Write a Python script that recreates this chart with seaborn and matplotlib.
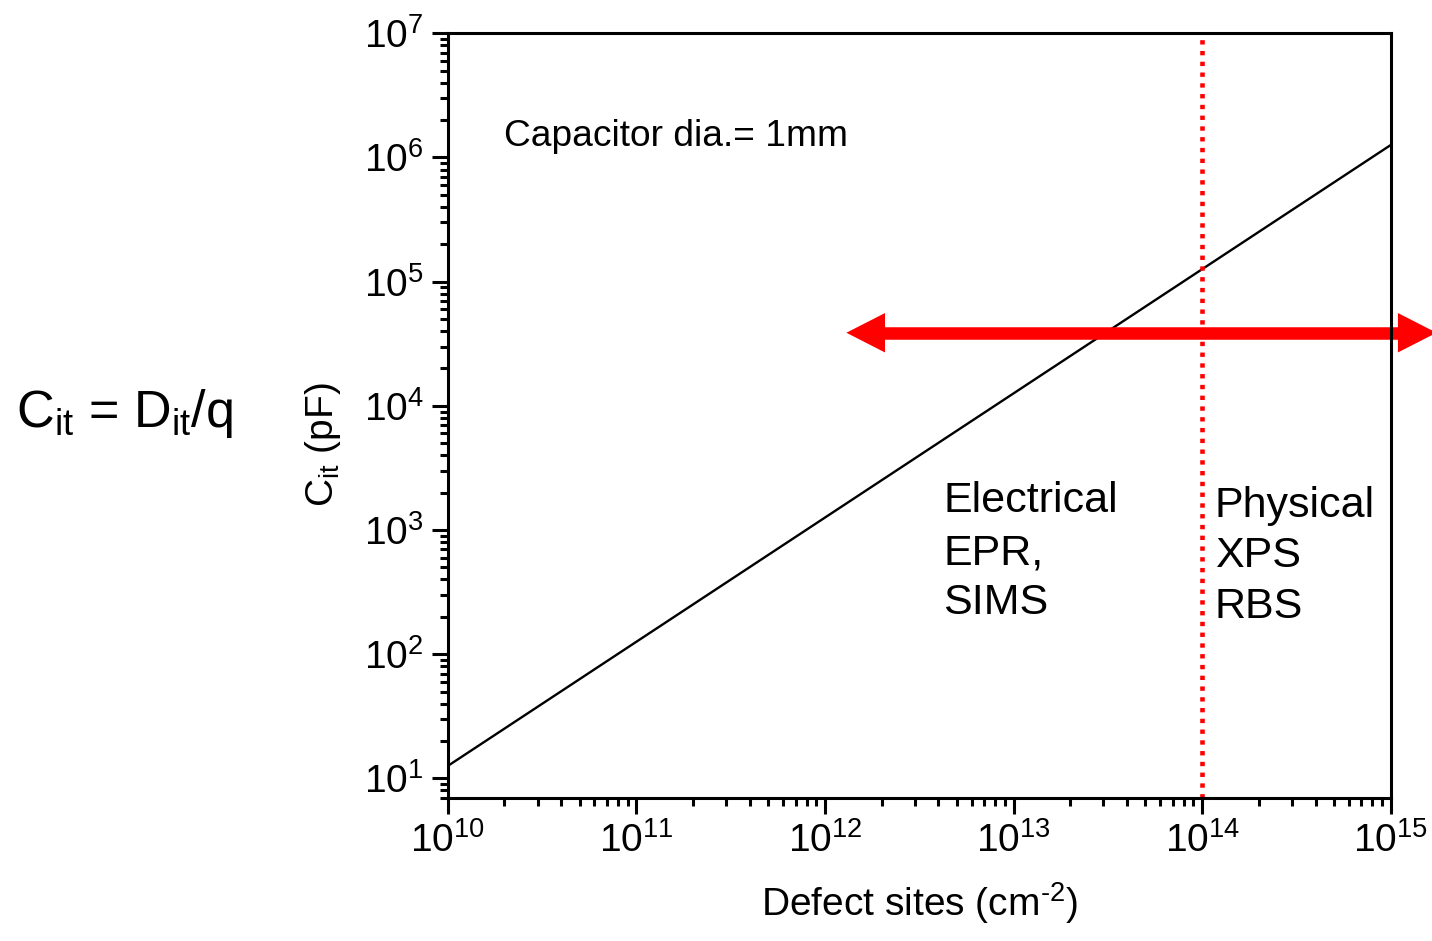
import matplotlib
matplotlib.use("Agg")
import matplotlib.pyplot as plt
import seaborn as sns

# Interface-trap capacitance vs. defect density (1 mm diameter capacitor)
defect_sites = [1e10, 1e15]          # cm^-2
capacitance = [12.6, 1.26e6]        # pF

# detection-range arrow and boundary between techniques
arrow_x = [1.30e12, 1.75e15]
arrow_y = 3.88e4
boundary_x = 1e14

electrical_lines = ["Electrical", "EPR,", "SIMS"]
physical_lines = ["Physical", "XPS", "RBS"]

sns.set_style("ticks")
plt.rcParams["font.family"] = ["Liberation Sans", "DejaVu Sans"]
plt.rcParams["mathtext.fontset"] = "custom"
plt.rcParams["mathtext.rm"] = "Liberation Sans"
plt.rcParams["mathtext.it"] = "Liberation Sans:italic"
plt.rcParams["mathtext.bf"] = "Liberation Sans:bold"
plt.rcParams["mathtext.default"] = "regular"
for key in ["text.color", "axes.labelcolor", "xtick.color", "ytick.color",
            "axes.edgecolor"]:
    plt.rcParams[key] = "black"

W, H = 1432, 941
fig = plt.figure(figsize=(W / 100, H / 100), dpi=100)
ax = fig.add_axes([447.7 / W, 1 - 797.7 / H, 943.0 / W, 764.4 / H])

def fx(px):
    return px / W

def fy(py):
    return 1 - py / H

sns.lineplot(x=defect_sites, y=capacitance, ax=ax, color="black", lw=1.7)
ax.set_xscale("log")
ax.set_yscale("log")
ax.set_xlim(1e10, 1e15)
ax.set_ylim(7, 1e7)

ax.axvline(boundary_x, color="#ff0000", lw=3.3, linestyle=(0, (0.95, 1.4)))

# double-headed arrow: filled heads plus a thick shaft that ends inside them
red = "#ff0000"
ax.annotate("", xy=(arrow_x[1], arrow_y), xytext=(arrow_x[0], arrow_y),
            xycoords="data", textcoords="data", annotation_clip=False,
            arrowprops=dict(arrowstyle="<|-|>,head_length=27.8,head_width=14.2",
                            mutation_scale=1, fc=red, ec="none", lw=0,
                            shrinkA=0, shrinkB=0, clip_on=False))
inset = 1.35
ax.plot([arrow_x[0] * inset, arrow_x[1] / inset], [arrow_y, arrow_y],
        color=red, lw=9, solid_capstyle="butt", clip_on=False)

for s in ax.spines.values():
    s.set_linewidth(2.2)
    s.set_color("black")
ax.tick_params(axis="both", which="major", direction="out", length=11.3,
               width=2.2, labelsize=28, pad=6, color="black",
               top=False, right=False)
ax.tick_params(axis="both", which="minor", direction="out", length=5.8,
               width=2.2, top=False, right=False)

ax.set_xlabel(r"Defect sites (cm$^{\text{-}2}$)", fontsize=28, va="baseline")
ax.xaxis.set_label_coords(0.5, (797.7 - 916) / 764.4)
ax.set_ylabel("C$_{it}$ (pF)", fontsize=28, va="center")
ax.yaxis.set_label_coords((323 - 447.7) / 943.0, (797.7 - 445) / 764.4)

fig.text(fx(504), fy(146), "Capacitor dia.= 1mm", fontsize=26.7, va="baseline")
for line, base in zip(electrical_lines, [512.3, 564, 614]):
    fig.text(fx(943.5), fy(base), line, fontsize=31, va="baseline")
for line, base in zip(physical_lines, [516.7, 566.7, 618]):
    fig.text(fx(1215), fy(base), line, fontsize=31, va="baseline")

fig.text(fx(15.5), fy(426.7), "C$_{it}$ = D$_{it}$/q", fontsize=37.5, va="baseline")

fig.savefig("out.png", dpi=100, facecolor="white")
